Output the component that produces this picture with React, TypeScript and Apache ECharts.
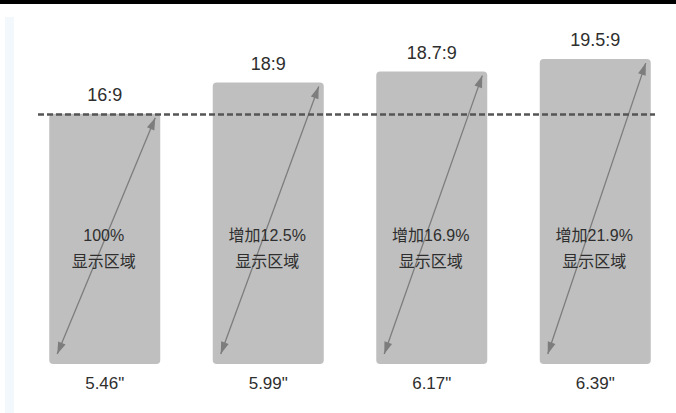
import React, { useEffect, useRef } from "react";
import * as echarts from "echarts";

// Data
const sizeLabels: string[] = ['5.46"', '5.99"', '6.17"', '6.39"'];
const ratioLabels: string[] = ["16:9", "18:9", "18.7:9", "19.5:9"];
const ratioValues: number[] = [16, 18, 18.7, 19.5];
const areaLabels: string[] = [
  "100%\n显示区域",
  "增加12.5%\n显示区域",
  "增加16.9%\n显示区域",
  "增加21.9%\n显示区域",
];

const BAR_W = 111;
const BAR_COLOR = "#bfbfbf";
const ARROW_COLOR = "#7d7d7d";
const TEXT_COLOR = "#2e2e2e";
const LATIN = "'Liberation Sans', Arial, sans-serif";
const MIXED = "'Liberation Sans', 'Noto Sans CJK SC', sans-serif";

function arrowHead(tip: number[], from: number[], len: number, half: number) {
  const dx = tip[0] - from[0];
  const dy = tip[1] - from[1];
  const d = Math.sqrt(dx * dx + dy * dy) || 1;
  const ux = dx / d;
  const uy = dy / d;
  const bx = tip[0] - ux * len;
  const by = tip[1] - uy * len;
  const nx = -uy;
  const ny = ux;
  return [
    [tip[0], tip[1]],
    [bx + nx * half, by + ny * half],
    [bx - nx * half, by - ny * half],
  ];
}

export default function App() {
  const ref = useRef<HTMLDivElement>(null);

  useEffect(() => {
    if (!ref.current) return;
    const chart = echarts.init(ref.current, undefined, { renderer: "svg" });

    const option: any = {
      animation: false,
      backgroundColor: "#ffffff",
      grid: {
        left: 23,
        top: 20,
        width: 654,
        bottom: 49,
        containLabel: false,
        outerBoundsMode: "none",
      },
      xAxis: {
        type: "category",
        data: sizeLabels,
        axisLine: { show: false },
        axisTick: { show: false },
        splitLine: { show: false },
        axisLabel: {
          margin: 11,
          fontSize: 17,
          color: TEXT_COLOR,
          fontFamily: LATIN,
        },
      },
      yAxis: {
        type: "value",
        min: 0,
        max: 22,
        show: false,
        splitLine: { show: false },
      },
      graphic: [
        {
          type: "rect",
          shape: { x: 0, y: 0, width: 676, height: 4 },
          style: { fill: "#000000" },
          silent: true,
        },
        {
          type: "rect",
          shape: { x: 5, y: 17, width: 9, height: 396 },
          style: { fill: "#f3f8fd" },
          silent: true,
          z: -1,
        },
      ],
      series: [
        {
          type: "bar",
          data: ratioValues,
          barWidth: BAR_W,
          itemStyle: { color: BAR_COLOR, borderRadius: 4 },
          label: {
            show: true,
            position: "top",
            distance: 10,
            fontSize: 18,
            color: TEXT_COLOR,
            fontFamily: LATIN,
            formatter: (p: any) => ratioLabels[p.dataIndex],
          },
          markLine: {
            silent: true,
            symbol: ["none", "none"],
            label: { show: false },
            lineStyle: { color: "#555555", width: 2.5, type: [6, 3] },
            data: [[{ x: 38, yAxis: ratioValues[0] }, { x: 655, yAxis: ratioValues[0] }]],
          },
          z: 2,
        },
        {
          type: "custom",
          data: ratioValues.map((v, i) => [i, v]),
          encode: { x: 0, y: 1 },
          z: 3,
          renderItem: (params: any, api: any) => {
            const i = api.value(0);
            const v = api.value(1);
            const top = api.coord([i, v]);
            const base = api.coord([i, 0]);
            const half = BAR_W / 2;
            const p1 = [top[0] - half + 8, base[1] - 10];
            const p2 = [top[0] + half - 5, top[1] + 4];
            return {
              type: "group",
              children: [
                {
                  type: "line",
                  shape: { x1: p1[0], y1: p1[1], x2: p2[0], y2: p2[1] },
                  style: { stroke: ARROW_COLOR, lineWidth: 1.3 },
                },
                {
                  type: "polygon",
                  shape: { points: arrowHead(p2, p1, 12, 4) },
                  style: { fill: ARROW_COLOR },
                },
                {
                  type: "polygon",
                  shape: { points: arrowHead(p1, p2, 12, 4) },
                  style: { fill: ARROW_COLOR },
                },
                {
                  type: "text",
                  x: top[0] - 1,
                  y: base[1] - 116,
                  style: {
                    text: areaLabels[params.dataIndex],
                    fontSize: 16,
                    lineHeight: 26,
                    fontFamily: MIXED,
                    fill: TEXT_COLOR,
                    align: "center",
                    verticalAlign: "middle",
                  },
                },
              ],
            };
          },
        },
      ],
    };

    chart.setOption(option);
    return () => chart.dispose();
  }, []);

  return (
    <div
      ref={ref}
      style={{
        position: "fixed",
        left: 0,
        top: 0,
        width: 676,
        height: 413,
        background: "#ffffff",
      }}
    />
  );
}
